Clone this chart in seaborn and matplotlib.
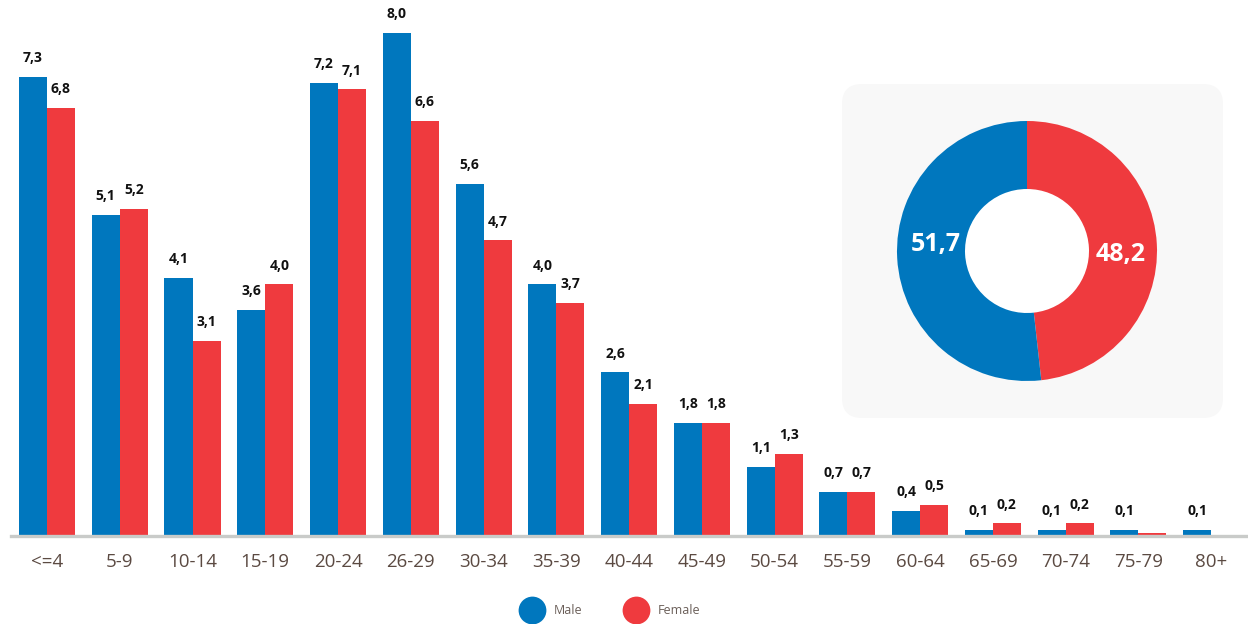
import matplotlib
matplotlib.use("Agg")
import matplotlib.pyplot as plt
from matplotlib.patches import FancyBboxPatch, Circle
from matplotlib.lines import Line2D
import seaborn as sns
import pandas as pd

# Population share by age group (%)
age_groups = ["<=4", "5-9", "10-14", "15-19", "20-24", "26-29", "30-34", "35-39",
              "40-44", "45-49", "50-54", "55-59", "60-64", "65-69", "70-74", "75-79", "80+"]
male = [7.3, 5.1, 4.1, 3.6, 7.2, 8.0, 5.6, 4.0, 2.6, 1.8, 1.1, 0.7, 0.4, 0.1, 0.1, 0.1, 0.1]
female = [6.8, 5.2, 3.1, 4.0, 7.1, 6.6, 4.7, 3.7, 2.1, 1.8, 1.3, 0.7, 0.5, 0.2, 0.2, 0.05, 0.02]
female_labeled = [True] * 15 + [False, False]

# Overall sex split (%)
sex_labels = ["Female", "Male"]
sex_share = [48.2, 51.7]

series_names = ["Male", "Female"]
BLUE = "#0077be"
RED = "#ef3a3e"
TICK_COLOR = "#5b4a42"

sns.set_theme(style="white")
plt.rcParams["font.family"] = ["Open Sans", "DejaVu Sans"]

df = pd.DataFrame({
    "age": age_groups * 2,
    "value": male + female,
    "sex": [series_names[0]] * len(male) + [series_names[1]] * len(female),
})

fig = plt.figure(figsize=(12.48, 6.24), dpi=100)
ax = fig.add_axes([10.6 / 1248, 88 / 624, 1237 / 1248, 526 / 624])

sns.barplot(data=df, x="age", y="value", hue="sex", order=age_groups,
            hue_order=series_names, palette=[BLUE, RED], width=0.77,
            saturation=1, legend=False, linewidth=0, ax=ax)
ax.set_xlim(-0.5, len(age_groups) - 0.5)
ax.set_ylim(0, 526 / 62.9)

# Value labels above bars
for container, vals, show in zip(ax.containers, [male, female],
                                 [[True] * len(male), female_labeled]):
    for bar, v, s in zip(container, vals, show):
        if not s:
            continue
        ax.annotate(f"{v:.1f}".replace(".", ","),
                    (bar.get_x() + bar.get_width() / 2, v),
                    xytext=(0, 8.5), textcoords="offset points",
                    ha="center", va="bottom", fontsize=10,
                    fontweight="bold", color="#111111")

for side in ["top", "right", "left"]:
    ax.spines[side].set_visible(False)
ax.spines["bottom"].set_color("#c9cbc9")
ax.spines["bottom"].set_linewidth(2.4)
ax.set_yticks([])
ax.set_xlabel("")
ax.set_ylabel("")
ax.tick_params(axis="x", length=0, pad=12, labelsize=13.5, labelcolor=TICK_COLOR)

# Donut with its rounded panel behind it
R = 130
cx, cy = 1027, 251
pax = fig.add_axes([(cx - R) / 1248, (624 - cy - R) / 624, 2 * R / 1248, 2 * R / 624])
panel = FancyBboxPatch((842 / 1248, (624 - 418) / 624), 381 / 1248, 334 / 624,
                       boxstyle="round,pad=0,rounding_size=0.016",
                       transform=fig.transFigure, facecolor="#f8f8f8",
                       edgecolor="none", zorder=0, mutation_aspect=2, clip_on=False)
pax.add_artist(panel)
ring = 68 / 130
pax.add_patch(Circle((0, 0), 1 - ring + 0.005, facecolor="white", edgecolor="none", zorder=1))
pax.pie(sex_share, colors=[RED, BLUE], startangle=90, counterclock=False,
        radius=1.0, wedgeprops=dict(width=ring, edgecolor="none", zorder=2))
pax.set_aspect("equal")
pax.set_xlim(-1, 1)
pax.set_ylim(-1, 1)
pax.axis("off")
pax.text(-0.70, 0.05, f"{sex_share[1]:.1f}".replace(".", ","), ha="center", va="center",
         color="white", fontsize=18, fontweight="bold", zorder=3)
pax.text(0.72, -0.03, f"{sex_share[0]:.1f}".replace(".", ","), ha="center", va="center",
         color="white", fontsize=18, fontweight="bold", zorder=3)

# Legend
handles = [Line2D([], [], marker="o", linestyle="none", markersize=20,
                  markerfacecolor=c, markeredgecolor="none") for c in [BLUE, RED]]
fig.legend(handles, series_names, loc="center", bbox_to_anchor=(610 / 1248, 13 / 624),
           ncol=2, frameon=False, fontsize=9, labelcolor="#6a5e58",
           handletextpad=0.75, columnspacing=3.3)

fig.savefig("out.png", dpi=100)
